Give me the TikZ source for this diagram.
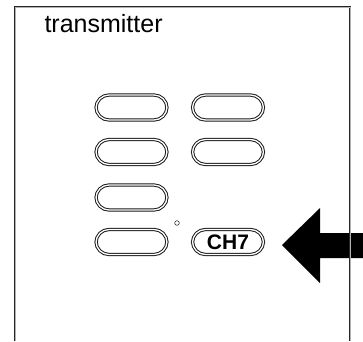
\documentclass[tikz,border=0pt]{standalone}
\usepackage{fontspec}
\setmainfont{Liberation Sans}
\begin{document}
\begin{tikzpicture}[x=1pt,y=-1pt,
  btn/.style={draw=black!90,double=white,double distance=1.3pt,line width=1pt,
    rounded corners=13pt,minimum width=71pt,minimum height=25pt,inner sep=0pt,fill=white}]
\useasboundingbox (0,0) rectangle (363,341);
% arrow
\fill (282,245) -- (320,208) -- (320,233) -- (363,233) -- (363,258) -- (320,258) -- (320,283) -- cycle;
% housing
\draw[draw=black!85,double=gray!60,double distance=0.9pt,line width=0.9pt] (15,341) |- (350,7) -- (350,341);
\node[anchor=base west,font=\fontsize{25}{30}\selectfont] (T) at (41,32) {transmitter};
\node[btn] (B1) at (131.5,107.5) {};
\node[btn] (B2) at (228,107.5) {};
\node[btn] (B3) at (131.5,152) {};
\node[btn] (B4) at (228,152) {};
\node[btn] (B5) at (131.5,197.5) {};
\node[btn] (B6) at (131.5,242) {};
\node[btn,font=\fontsize{21}{21}\selectfont\bfseries] (CH) at (228,242) {CH7};
\draw[black!80,line width=0.6pt] (177,223) circle (2.3);
\end{tikzpicture}
\end{document}
